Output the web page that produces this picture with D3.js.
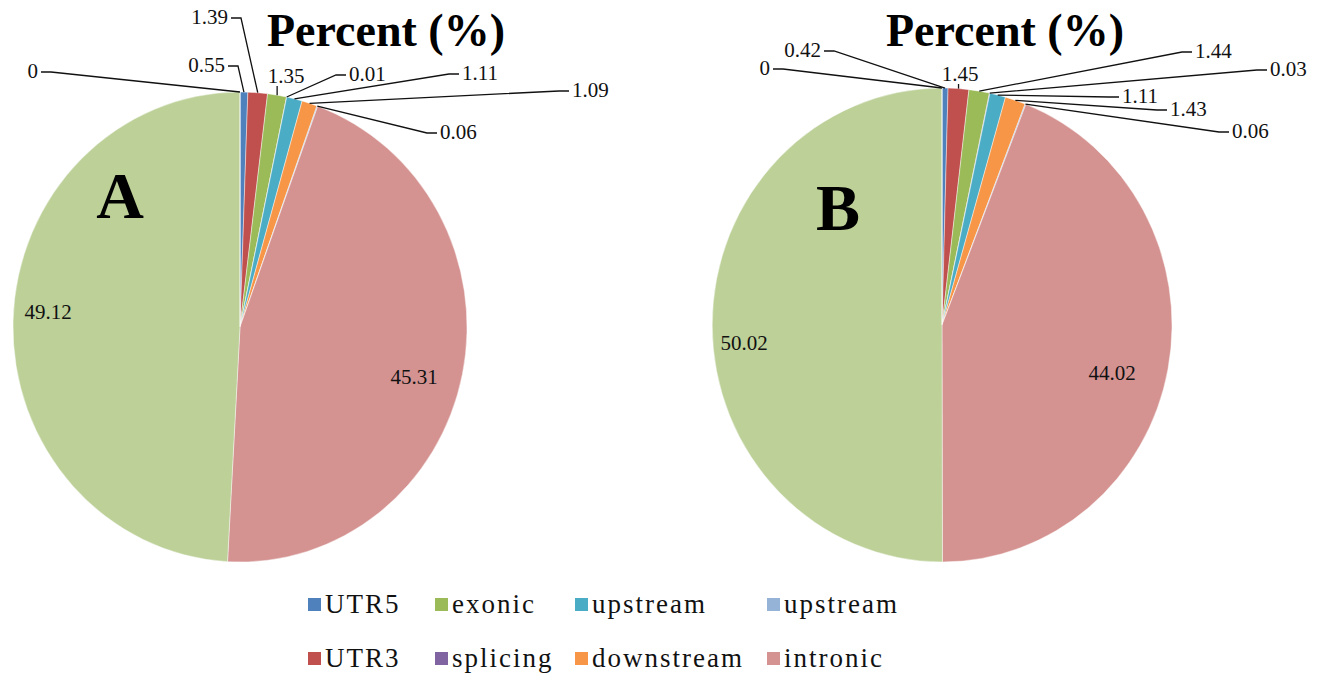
<!DOCTYPE html>
<html>
<head>
<meta charset="utf-8">
<script src="https://cdn.jsdelivr.net/npm/d3@7"></script>
<style>
  body { margin: 0; background: #fff; }
  text { font-family: "Liberation Serif", "DejaVu Serif", serif; }
</style>
</head>
<body>
<div class="container"></div>
<script>
// slice order as drawn, clockwise from 12 o'clock
const categories = ['UTR5', 'UTR3', 'exonic', 'splicing', 'upstream', 'downstream', 'upstream', 'intronic', 'intergenic', 'other'];
const valuesA = [0.55, 1.39, 1.35, 0.01, 1.11, 1.09, 0.06, 45.31, 49.12, 0];
const valuesB = [0.42, 1.45, 1.44, 0.03, 1.11, 1.43, 0.06, 44.02, 50.02, 0];
const colors = ['#4f81bd', '#c0504d', '#9bbb59', '#8064a2', '#4bacc6', '#f79646', '#95b3d7', '#d49391', '#bcd098', '#b3a2c7'];
const legendItems = categories.slice(0, 8);

// label placement (text x, baseline y, anchor) -- layout only
const labelPosA = [
  {x: 225, y: 72, a: 'end'},
  {x: 228, y: 24, a: 'end'},
  {x: 286, y: 83, a: 'middle'},
  {x: 349, y: 81, a: 'start'},
  {x: 462, y: 80, a: 'start'},
  {x: 572, y: 97, a: 'start'},
  {x: 440, y: 139, a: 'start'},
  {x: 414, y: 384, a: 'middle', inside: true},
  {x: 48, y: 319, a: 'middle', inside: true},
  {x: 38, y: 78, a: 'end'}
];
const labelPosB = [
  {x: 821, y: 57, a: 'end'},
  {x: 960, y: 81, a: 'middle'},
  {x: 1195, y: 58, a: 'start'},
  {x: 1270, y: 76, a: 'start'},
  {x: 1122, y: 103, a: 'start'},
  {x: 1170, y: 116, a: 'start'},
  {x: 1232, y: 138, a: 'start'},
  {x: 1112, y: 380, a: 'middle', inside: true},
  {x: 744, y: 350, a: 'middle', inside: true},
  {x: 770, y: 75, a: 'end'}
];

const W = 1327, H = 674;

const svg = d3.select('.container')
  .append('svg')
  .attr('width', W)
  .attr('height', H);

let drawPie = (values, labelPos, cx, cy, rx, ry, letter, letterX, letterY, titleX) => {
  let pie = d3.pie().sort(null).value(d => d);
  let arcs = pie(values);
  let arc = d3.arc().innerRadius(0).outerRadius(rx);

  let g = svg.append('g')
    .attr('transform', `translate(${cx},${cy}) scale(1,${ry / rx})`);

  g.selectAll('path')
    .data(arcs)
    .enter()
    .append('path')
    .attr('d', arc)
    .attr('fill', (d, i) => colors[i])
    .attr('stroke', '#fff')
    .attr('stroke-width', 0.6)
    .attr('stroke-opacity', 0.7);

  let edgePoint = d => {
    let m = (d.startAngle + d.endAngle) / 2;
    return [cx + rx * Math.sin(m), cy - ry * Math.cos(m)];
  };

  // leader lines: slice edge -> elbow -> label
  arcs.forEach((d, i) => {
    let p = labelPos[i];
    if (p.inside) return;
    let pts;
    let e = edgePoint(d);
    if (p.a === 'middle') {
      pts = [e, [e[0], p.y + 3]];
    } else {
      let ex = p.a === 'end' ? p.x + 3 : p.x - 3;
      let ey = p.y - 6;
      let elbow = p.a === 'end' ? ex + 10 : ex - 10;
      pts = [e, [elbow, ey], [ex, ey]];
    }
    svg.append('path')
      .attr('d', d3.line()(pts))
      .attr('fill', 'none')
      .attr('stroke', '#111')
      .attr('stroke-width', 1.3);
  });

  svg.append('g').selectAll('text')
    .data(arcs)
    .enter()
    .append('text')
    .attr('x', (d, i) => labelPos[i].x)
    .attr('y', (d, i) => labelPos[i].y)
    .attr('text-anchor', (d, i) => labelPos[i].a)
    .attr('font-size', 21)
    .attr('fill', '#111')
    .text(d => String(d.data));

  svg.append('text')
    .attr('x', letterX)
    .attr('y', letterY)
    .attr('text-anchor', 'middle')
    .attr('font-size', 66)
    .attr('font-weight', 'bold')
    .text(letter);

  svg.append('text')
    .attr('x', titleX)
    .attr('y', 46)
    .attr('text-anchor', 'middle')
    .attr('font-size', 46)
    .attr('font-weight', 'bold')
    .text('Percent (%)');
};

drawPie(valuesA, labelPosA, 240, 327, 227, 235, 'A', 120, 218, 386);
drawPie(valuesB, labelPosB, 942, 325, 230, 237, 'B', 838, 230, 1005);

// legend, filled column by column
let legendX = [308, 435, 575, 767];
let legendY = [613, 667];
let legend = svg.append('g');
legendItems.forEach((name, i) => {
  let col = Math.floor(i / 2), row = i % 2;
  let item = legend.append('g');
  item.append('rect')
    .attr('x', legendX[col])
    .attr('y', legendY[row] - 15)
    .attr('width', 13)
    .attr('height', 13)
    .attr('fill', colors[i]);
  item.append('text')
    .attr('x', legendX[col] + 17)
    .attr('y', legendY[row])
    .attr('font-size', 27)
    .attr('letter-spacing', 2)
    .attr('fill', '#111')
    .text(name);
});
</script>
</body>
</html>
